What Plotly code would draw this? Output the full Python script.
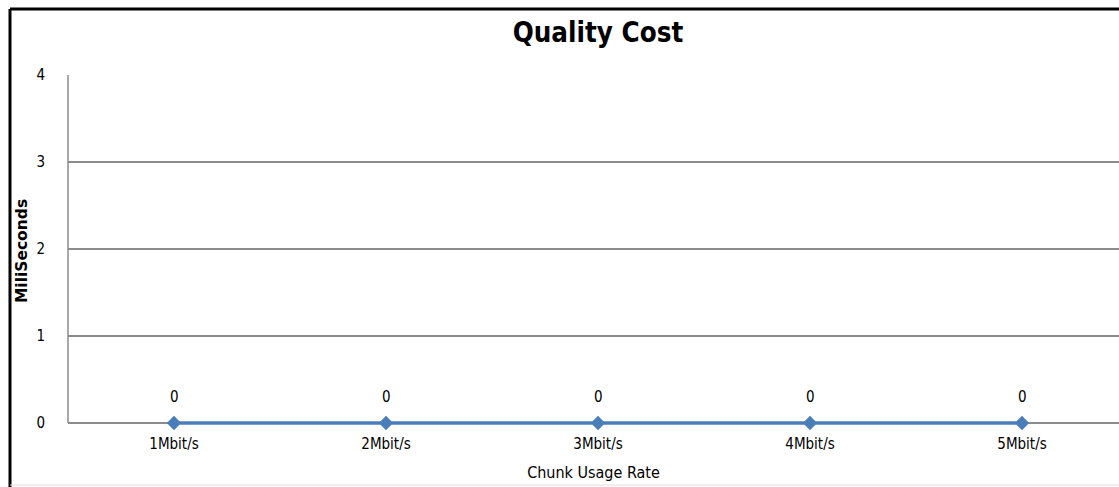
import plotly.graph_objects as go

# Chart data
categories = ["1Mbit/s", "2Mbit/s", "3Mbit/s", "4Mbit/s", "5Mbit/s"]
quality_cost = [0, 0, 0, 0, 0]
y_ticks = [0, 1, 2, 3, 4]

W, H = 1119, 487
UNIT = 87.0          # px per millisecond on the value axis
Y_PAD = 4 / UNIT     # small room under zero so the series line is not clipped
ML, MR, MT, MB = 68, 0, 75, 60
PW, PH = W - ML - MR, H - MT - MB

FONT = "DejaVu Sans Condensed"
LINE_BLUE = "#4a7ebb"
GRID = "#8c8c8c"


def px_x(px):
    return (px - ML) / PW


def px_y(py):
    return (H - MB - py) / PH


xs = list(range(len(categories)))

fig = go.Figure()
fig.add_trace(go.Scatter(
    x=xs,
    y=quality_cost,
    mode="lines+markers",
    line=dict(color=LINE_BLUE, width=3.5),
    marker=dict(symbol="diamond", size=11, color=LINE_BLUE),
    cliponaxis=False,
    showlegend=False,
))

# value labels above each point
annotations = [
    dict(x=x, y=v, xref="x", yref="y", text=str(v), showarrow=False,
         yshift=26, font=dict(family=FONT, size=15, color="#000000"))
    for x, v in zip(xs, quality_cost)
]

# one category cell spans 212 px
span = PW / 212.0
fig.update_layout(
    width=W, height=H,
    margin=dict(l=ML, r=MR, t=MT, b=MB, pad=0),
    paper_bgcolor="white", plot_bgcolor="white",
    font=dict(family=FONT, size=15, color="#000000"),
    title=dict(text="<b>Quality Cost</b>", x=598 / W, xanchor="center",
               y=1 - 32 / H, yanchor="middle",
               font=dict(family=FONT, size=27.5, color="#000000")),
    xaxis=dict(
        range=[-0.5, -0.5 + span],
        tickmode="array",
        tickvals=xs,
        ticktext=categories,
        showgrid=False, zeroline=False,
        showline=False, ticks="", ticklabelstandoff=6,
        tickfont=dict(family=FONT, size=15),
        title=dict(text="Chunk Usage Rate", standoff=14,
                   font=dict(family=FONT, size=16)),
    ),
    yaxis=dict(
        range=[-Y_PAD, 4],
        tickmode="array", tickvals=y_ticks,
        showgrid=True, gridcolor=GRID, gridwidth=1.5,
        zeroline=False, showline=False,
        ticks="", ticklabelstandoff=22,
        tickfont=dict(family=FONT, size=15),
        title=dict(text="<b>MiliSeconds</b>", standoff=4,
                   font=dict(family="DejaVu Sans", size=15.5)),
    ),
    annotations=annotations,
    shapes=[
        # value axis line, from 0 to 4
        dict(type="line", xref="paper", yref="y", x0=0, x1=0, y0=0, y1=4,
             line=dict(color=GRID, width=1.5), layer="below"),
        # outer frame: left and top edges, faint bottom edge
        dict(type="line", xref="paper", yref="paper",
             x0=px_x(10), x1=px_x(10), y0=px_y(9), y1=px_y(H + 2),
             line=dict(color="#000000", width=3)),
        dict(type="line", xref="paper", yref="paper",
             x0=px_x(10), x1=px_x(W + 2), y0=px_y(9), y1=px_y(9),
             line=dict(color="#000000", width=3)),
        dict(type="line", xref="paper", yref="paper",
             x0=px_x(10), x1=px_x(W + 2), y0=px_y(485), y1=px_y(485),
             line=dict(color="#e0e0e0", width=1)),
    ],
)

fig.write_html("out.html")
